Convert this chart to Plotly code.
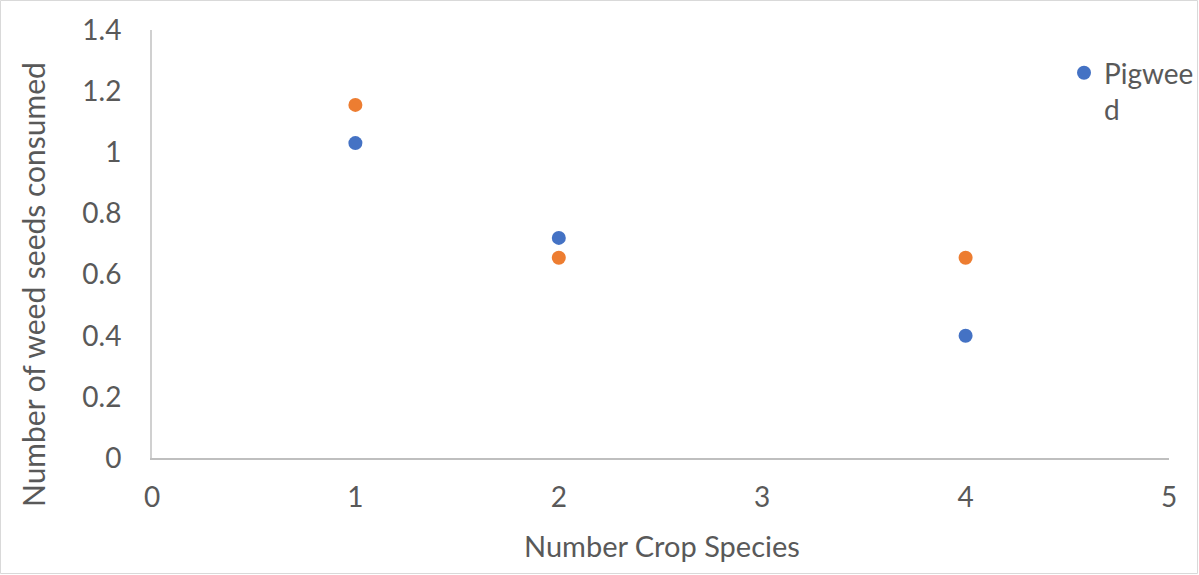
import plotly.graph_objects as go

crop_species = [1, 2, 4]
pigweed = [1.03, 0.72, 0.40]
other_weed = [1.155, 0.655, 0.655]
x_ticks = [0, 1, 2, 3, 4, 5]
y_ticks = [0, 0.2, 0.4, 0.6, 0.8, 1, 1.2, 1.4]
x_title = "Number Crop Species"
y_title = "Number of weed seeds consumed"

FONT = "Lato, Open Sans, sans-serif"
GRAY = "#595959"

fig = go.Figure()
fig.add_trace(go.Scatter(x=crop_species, y=other_weed, mode="markers", name="",
                         marker=dict(color="#ED7D31", size=14), showlegend=False))
fig.add_trace(go.Scatter(x=crop_species, y=pigweed, mode="markers", name="Pigwee<br>d",
                         marker=dict(color="#4472C4", size=14)))

L, R, T, B = 152, 30, 30, 117
W, H = 1199, 575
pw, ph = W - L - R, H - T - B

fig.update_layout(
    width=W, height=H,
    margin=dict(l=L, r=R, t=T, b=B, autoexpand=False),
    paper_bgcolor="white", plot_bgcolor="white",
    font=dict(family=FONT, size=28, color=GRAY),
    legend=dict(x=(1064 - L) / pw, y=(458 - 48) / ph, xanchor="left", yanchor="top",
                font=dict(size=28, color=GRAY), bgcolor="rgba(0,0,0,0)",
                valign="top", itemwidth=30),
    xaxis=dict(range=[0, 5], tickvals=x_ticks, ticktext=[str(v) for v in x_ticks],
               showgrid=False, zeroline=False, showline=True, linecolor="#BFBFBF",
               linewidth=2, ticks="", ticklabelstandoff=13, automargin=False,
               tickfont=dict(size=28, color=GRAY)),
    yaxis=dict(range=[0, 1.4], tickvals=y_ticks, ticktext=["0", "0.2", "0.4", "0.6", "0.8", "1", "1.2", "1.4"],
               showgrid=False, zeroline=False, showline=True, linecolor="#D0D0D0",
               linewidth=2, ticks="", ticklabelstandoff=23, automargin=False,
               tickfont=dict(size=28, color=GRAY)),
    showlegend=True,
    annotations=[
        dict(text=x_title, xref="paper", yref="paper", x=(662 - L) / pw, y=(458 - 545) / ph,
             xanchor="center", yanchor="middle", showarrow=False,
             font=dict(size=29, color=GRAY)),
        dict(text=y_title, xref="paper", yref="paper", x=(33 - L) / pw, y=(458 - 285) / ph,
             xanchor="center", yanchor="middle", showarrow=False, textangle=-90,
             font=dict(size=30, color=GRAY)),
    ],
)

fig.add_shape(type="rect", xref="paper", yref="paper",
              x0=(0.5 - L) / pw, x1=(W - 1.5 - L) / pw,
              y0=(458 - (H - 1.5)) / ph, y1=(458 - 0.5) / ph,
              line=dict(color="#D9D9D9", width=1), layer="below")

fig.write_html("out.html", config={"displayModeBar": False},
               post_script="document.body.style.margin='0';document.body.style.overflow='hidden';")
